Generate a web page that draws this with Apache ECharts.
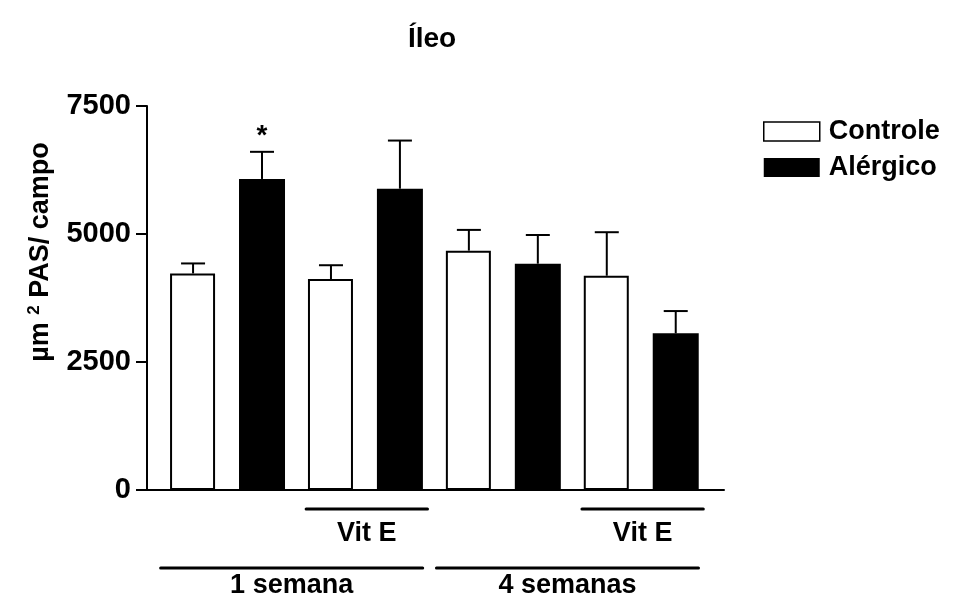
<!DOCTYPE html>
<html>
<head>
<meta charset="utf-8">
<script src="https://cdn.jsdelivr.net/npm/echarts@6/dist/echarts.min.js"></script>
<style>
html,body{margin:0;padding:0;background:#fff;}
#chart{width:961px;height:599px;}
</style>
</head>
<body>
<div id="chart"></div>
<script>
// ---- data ----
const titleText = 'Íleo';
const seriesNames = ['Controle', 'Alérgico'];
const barCategories = ['Controle 1 sem', 'Alérgico 1 sem', 'Controle 1 sem Vit E', 'Alérgico 1 sem Vit E',
                       'Controle 4 sem', 'Alérgico 4 sem', 'Controle 4 sem Vit E', 'Alérgico 4 sem Vit E'];
const controleMeans = [4230, 4120, 4675, 4185];
const controleSEM   = [195, 270, 405, 850];
const alergicoMeans = [6075, 5885, 4420, 3060];
const alergicoSEM   = [530, 940, 560, 435];
const significance  = ['', '*', '', '', '', '', '', ''];
const yTicks = [0, 2500, 5000, 7500];
const brackets = [
  {label: 'Vit E', from: 2, to: 3, level: 1},
  {label: 'Vit E', from: 6, to: 7, level: 1},
  {label: '1 semana', from: 0, to: 3, level: 2},
  {label: '4 semanas', from: 4, to: 7, level: 2}
];
const yAxisTitle = {pre: 'µm ', sup: '2', post: ' PAS/ campo'};

// ---- build ----
const FONT = "'Liberation Sans', Arial, Helvetica, sans-serif";
const controleData = controleMeans.map((v, i) => [i * 2, v]);
const alergicoData = alergicoMeans.map((v, i) => [i * 2 + 1, v]);
const errData = [];
barCategories.forEach((c, i) => {
  const isC = i % 2 === 0;
  const k = Math.floor(i / 2);
  const m = isC ? controleMeans[k] : alergicoMeans[k];
  const s = isC ? controleSEM[k] : alergicoSEM[k];
  errData.push([i, m, m + s]);
});

const chart = echarts.init(document.getElementById('chart'), null, {renderer: 'canvas'});
const option = {
  animation: false,
  backgroundColor: '#fff',
  grid: {left: 147, right: 237, top: 106, bottom: 109, containLabel: false},
  legend: {
    orient: 'vertical', left: 763, top: 118, padding: 0, itemWidth: 56, itemHeight: 19, itemGap: 9,
    icon: 'rect',
    textStyle: {fontFamily: FONT, fontWeight: 'bold', fontSize: 27, color: '#000', padding: [0, 0, 0, 4]},
    data: [
      {name: seriesNames[0], itemStyle: {color: '#fff', borderColor: '#000', borderWidth: 1.5}},
      {name: seriesNames[1], itemStyle: {color: '#000', borderColor: '#000', borderWidth: 0}}
    ]
  },
  xAxis: {
    type: 'value', min: -0.668, max: 7.70,
    axisLine: {show: true, onZero: false, lineStyle: {color: '#000', width: 2}},
    axisTick: {show: false}, axisLabel: {show: false}, splitLine: {show: false}
  },
  yAxis: {
    type: 'value', min: yTicks[0], max: yTicks[yTicks.length - 1], interval: yTicks[1] - yTicks[0],
    axisLine: {show: true, onZero: false, lineStyle: {color: '#000', width: 2}},
    axisTick: {show: true, inside: false, length: 11, lineStyle: {color: '#000', width: 2}},
    axisLabel: {fontFamily: FONT, fontWeight: 'bold', fontSize: 29, color: '#000', margin: 16,
      formatter: v => String(v)},
    splitLine: {show: false}
  },
  series: [
    {
      name: seriesNames[0], type: 'bar', data: controleData, barWidth: 45, barGap: '-100%',
      itemStyle: {color: '#fff', borderColor: '#000', borderWidth: 2}
    },
    {
      name: seriesNames[1], type: 'bar', data: alergicoData, barWidth: 46, barGap: '-100%',
      itemStyle: {color: '#000', borderColor: '#000', borderWidth: 0}
    },
    {
      type: 'custom', data: errData, z: 5,
      renderItem: function (params, api) {
        const x = api.value(0);
        const top = api.coord([x, api.value(1)]);
        const hi = api.coord([x, api.value(2)]);
        const children = [
          {type: 'line', shape: {x1: top[0], y1: top[1], x2: hi[0], y2: hi[1]}, style: {stroke: '#000', lineWidth: 2}},
          {type: 'line', shape: {x1: hi[0] - 12, y1: hi[1], x2: hi[0] + 12, y2: hi[1]}, style: {stroke: '#000', lineWidth: 2}}
        ];
        const mark = significance[params.dataIndex];
        if (mark) {
          children.push({type: 'text', style: {text: mark, x: hi[0], y: hi[1] - 2, textAlign: 'center', textVerticalAlign: 'bottom',
            font: 'bold 28px ' + FONT, fill: '#000'}});
        }
        return {type: 'group', children: children};
      }
    }
  ]
};
chart.setOption(option);

// annotations positioned through the axis scale
const px = v => chart.convertToPixel({gridIndex: 0}, [v, 0])[0];
const graphics = [];
graphics.push({type: 'text', style: {text: titleText, x: 432, y: 39, textAlign: 'center', textVerticalAlign: 'middle',
  font: 'bold 28px ' + FONT, fill: '#000'}});
graphics.push({type: 'text', rotation: Math.PI / 2, x: 41, y: 252,
  style: {
    text: '{a|' + yAxisTitle.pre + '}{s|' + yAxisTitle.sup + '}{a|' + yAxisTitle.post + '}',
    textAlign: 'center', textVerticalAlign: 'middle',
    rich: {
      a: {fontFamily: FONT, fontWeight: 'bold', fontSize: 27, fill: '#000', color: '#000', lineHeight: 30},
      s: {fontFamily: FONT, fontWeight: 'bold', fontSize: 17, fill: '#000', color: '#000', verticalAlign: 'top', lineHeight: 17}
    }
  }});
brackets.forEach(b => {
  const lvl1 = b.level === 1;
  const x1 = px(b.from - (lvl1 ? 0.36 : 0.47));
  const x2 = px(b.to + (lvl1 ? 0.40 : 0.33));
  const ly = lvl1 ? 509 : 568;
  const ty = lvl1 ? 534 : 586;
  graphics.push({type: 'line', shape: {x1: x1, y1: ly, x2: x2, y2: ly}, style: {stroke: '#000', lineWidth: 3, lineCap: 'round'}});
  graphics.push({type: 'text', style: {text: b.label, x: (x1 + x2) / 2, y: ty, textAlign: 'center', textVerticalAlign: 'middle',
    font: 'bold 27px ' + FONT, fill: '#000'}});
});
chart.setOption({graphic: graphics});
</script>
</body>
</html>
